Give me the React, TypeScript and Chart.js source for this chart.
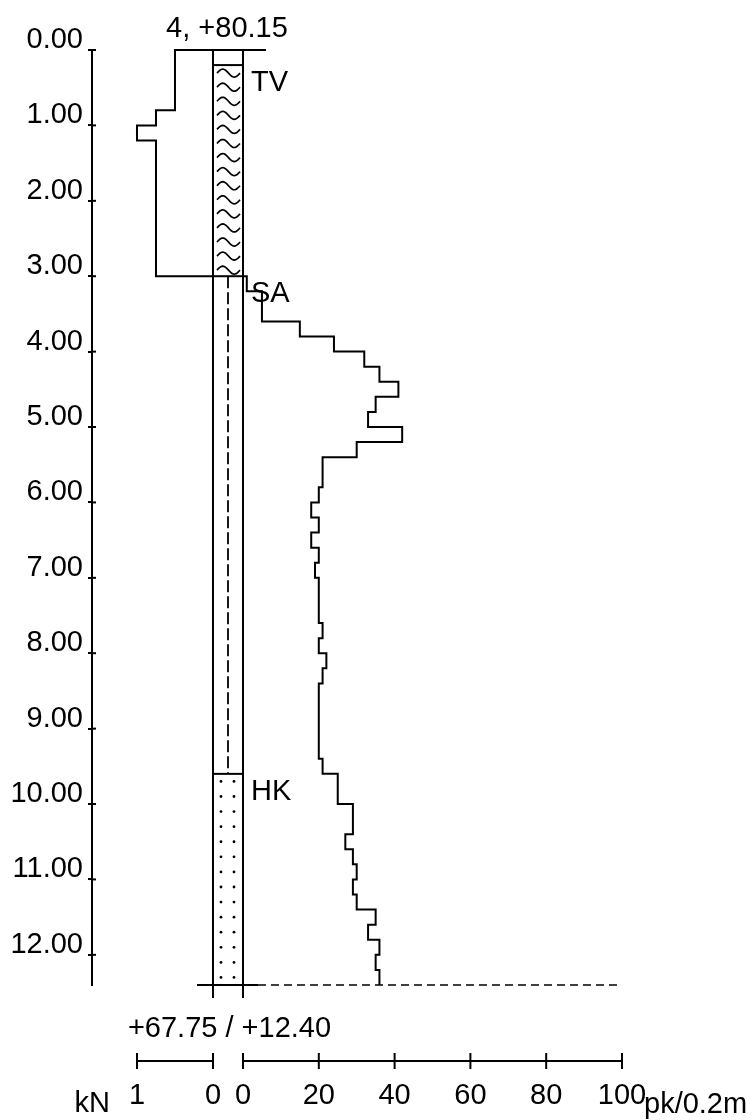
import React, { useEffect, useRef } from "react";
import { Chart, registerables } from "chart.js";

Chart.register(...registerables);

const FONT = "'Liberation Sans', Arial, Helvetica, sans-serif";
const FONT_SIZE = 29;

// Sounding point header / footer
const POINT_NO = "4";
const GROUND_ELEVATION = 80.15;
const END_DEPTH = 12.4;

// Depth axis ticks (m)
const DEPTH_TICKS = [0, 1, 2, 3, 4, 5, 6, 7, 8, 9, 10, 11, 12];

// Weight sounding part (kN): step tops and loads
const KN_DEPTHS = [0.0, 0.8, 1.0, 1.2];
const KN_VALUES = [0.5, 0.75, 1.0, 0.75];
const KN_END_DEPTH = 3.0;

// Half-turns per 0.2 m (pk/0.2m): step tops and values
const PK_DEPTHS = [
  3.0, 3.2, 3.4, 3.6, 3.8, 4.0, 4.2, 4.4, 4.6, 4.8,
  5.0, 5.2, 5.4, 5.6, 5.8, 6.0, 6.2, 6.4, 6.6, 6.8,
  7.0, 7.2, 7.4, 7.6, 7.8, 8.0, 8.2, 8.4, 8.6, 8.8,
  9.0, 9.2, 9.4, 9.6, 9.8, 10.0, 10.2, 10.4, 10.6, 10.8,
  11.0, 11.2, 11.4, 11.6, 11.8, 12.0, 12.2,
];
const PK_VALUES = [
  1, 5, 5, 15, 24, 32, 36, 41, 35, 33,
  42, 30, 21, 21, 20, 18, 20, 18, 20, 19,
  20, 20, 20, 21, 20, 22, 21, 20, 20, 20,
  20, 20, 21, 25, 25, 29, 29, 27, 29, 30,
  29, 30, 35, 33, 36, 35, 36,
];

// Soil layers
const LAYER_NAMES = ["TV", "SA", "HK"];
const LAYER_TOPS = [0.2, 3.0, 9.6];

// Bottom scale bars
const KN_AXIS_TICKS = [1, 0];
const PK_AXIS_TICKS = [0, 20, 40, 60, 80, 100];
const KN_UNIT = "kN";
const PK_UNIT = "pk/0.2m";

const profilePlugin = {
  id: "profile",
  afterDraw(chart: any) {
    const ctx: CanvasRenderingContext2D = chart.ctx;
    const xs = chart.scales.x;
    const xk = chart.scales.xkn;
    const ys = chart.scales.y;
    const area = chart.chartArea;
    const colL = xk.getPixelForValue(0);
    const colR = xs.getPixelForValue(0);
    const colC = (colL + colR) / 2;
    const yTop = ys.getPixelForValue(0);
    const yEnd = ys.getPixelForValue(END_DEPTH);

    const line = (x1: number, y1: number, x2: number, y2: number) => {
      ctx.beginPath();
      ctx.moveTo(x1, y1);
      ctx.lineTo(x2, y2);
      ctx.stroke();
    };

    ctx.save();
    ctx.strokeStyle = "#000";
    ctx.fillStyle = "#000";
    ctx.lineWidth = 2;
    ctx.lineCap = "butt";

    // right half of depth tick marks
    DEPTH_TICKS.forEach((d) => {
      const py = ys.getPixelForValue(d);
      line(area.left, py, area.left + 4, py);
    });

    // column sides
    line(colL, yTop, colL, yEnd + 13);
    line(colR, yTop, colR, yEnd + 13);
    // ground line
    line(colL, yTop, colR + 23, yTop);

    // layer boundaries
    LAYER_TOPS.forEach((t) => {
      const py = ys.getPixelForValue(t);
      line(colL, py, colR, py);
    });

    // layer symbols
    LAYER_NAMES.forEach((name, i) => {
      const top = LAYER_TOPS[i];
      const bot = i + 1 < LAYER_TOPS.length ? LAYER_TOPS[i + 1] : END_DEPTH;
      const pTop = ys.getPixelForValue(top);
      const pBot = ys.getPixelForValue(bot);
      if (name === "TV") {
        const n = 15;
        const step = (pBot - pTop) / n;
        ctx.lineWidth = 1.7;
        const x0 = colL + 4;
        const w = colR - colL - 7;
        for (let k = 0; k < n; k++) {
          const yc = pTop + (k + 0.5) * step + 1;
          ctx.beginPath();
          for (let s = 0; s <= 24; s++) {
            const t = s / 24;
            const px = x0 + t * w;
            const py = yc - 4 * Math.sin(2 * Math.PI * t);
            if (s === 0) ctx.moveTo(px, py);
            else ctx.lineTo(px, py);
          }
          ctx.stroke();
        }
      } else if (name === "SA") {
        ctx.lineWidth = 1.8;
        ctx.setLineDash([12, 4]);
        line(colC, pTop, colC, pBot);
        ctx.setLineDash([]);
      } else if (name === "HK") {
        for (let d = top + 0.1; d < bot; d += 0.2) {
          const py = ys.getPixelForValue(d);
          [colL + 8, colR - 9].forEach((px) => {
            ctx.beginPath();
            ctx.arc(px, py, 1.4, 0, Math.PI * 2);
            ctx.fill();
          });
        }
      }
    });
    ctx.lineWidth = 2;

    // bottom line at end depth
    line(colL - 16, yEnd, colR + 15, yEnd);
    ctx.lineWidth = 1.5;
    ctx.setLineDash([8, 5]);
    line(colR + 15, yEnd, xs.getPixelForValue(100), yEnd);
    ctx.setLineDash([]);
    ctx.lineWidth = 2;

    // texts
    ctx.font = `${FONT_SIZE}px ${FONT}`;
    ctx.textBaseline = "alphabetic";
    ctx.textAlign = "center";
    ctx.fillText(`${POINT_NO}, +${GROUND_ELEVATION.toFixed(2)}`, colC - 1, yTop - 13.5);
    ctx.fillText(
      `+${(GROUND_ELEVATION - END_DEPTH).toFixed(2)} / +${END_DEPTH.toFixed(2)}`,
      colC + 1.5,
      yEnd + 52
    );

    ctx.textAlign = "left";
    LAYER_NAMES.forEach((name, i) => {
      ctx.fillText(name, colR + 8, ys.getPixelForValue(LAYER_TOPS[i]) + 26);
    });

    // bottom scale bars
    const barY = yEnd + 76;
    const drawBar = (scale: any, ticks: number[]) => {
      const a = scale.getPixelForValue(ticks[0]);
      const b = scale.getPixelForValue(ticks[ticks.length - 1]);
      line(a, barY, b, barY);
      ctx.textAlign = "center";
      ticks.forEach((v) => {
        const px = scale.getPixelForValue(v);
        line(px, barY - 8, px, barY + 8);
        ctx.fillText(String(v), px, barY + 43);
      });
    };
    drawBar(xk, KN_AXIS_TICKS);
    drawBar(xs, PK_AXIS_TICKS);
    ctx.textAlign = "right";
    ctx.fillText(KN_UNIT, xk.getPixelForValue(KN_AXIS_TICKS[0]) - 27, barY + 51);
    ctx.textAlign = "left";
    ctx.fillText(PK_UNIT, xs.getPixelForValue(PK_AXIS_TICKS[PK_AXIS_TICKS.length - 1]) + 22, barY + 52);

    ctx.restore();
  },
};

export default function App() {
  const canvasRef = useRef<HTMLCanvasElement | null>(null);

  useEffect(() => {
    const canvas = canvasRef.current;
    if (!canvas) return;

    const knPoints = [
      { x: 0, y: KN_DEPTHS[0] },
      ...KN_DEPTHS.map((d, i) => ({ x: KN_VALUES[i], y: d })),
      { x: KN_VALUES[KN_VALUES.length - 1], y: KN_END_DEPTH },
      { x: 0, y: KN_END_DEPTH },
    ];
    const pkPoints = [
      { x: 0, y: PK_DEPTHS[0] },
      ...PK_DEPTHS.map((d, i) => ({ x: PK_VALUES[i], y: d })),
      { x: PK_VALUES[PK_VALUES.length - 1], y: END_DEPTH },
    ];

    const chart = new Chart(canvas, {
      type: "line",
      data: {
        datasets: [
          {
            label: "kN",
            data: knPoints,
            xAxisID: "xkn",
            yAxisID: "y",
            borderColor: "#000",
            borderWidth: 2,
            pointRadius: 0,
            stepped: "after",
            fill: false,
            clip: false,
          } as any,
          {
            label: "pk/0.2m",
            data: pkPoints,
            xAxisID: "x",
            yAxisID: "y",
            borderColor: "#000",
            borderWidth: 2,
            pointRadius: 0,
            stepped: "after",
            fill: false,
            clip: false,
          } as any,
        ],
      },
      options: {
        responsive: false,
        animation: false,
        devicePixelRatio: 1,
        layout: { padding: { left: 0, right: 131, top: 50, bottom: 135 } },
        plugins: { legend: { display: false }, tooltip: { enabled: false } },
        scales: {
          x: { type: "linear", display: false, bounds: "data", min: -39.84, max: 100 },
          xkn: { type: "linear", display: false, bounds: "data", reverse: true, min: -5.382, max: 1.592 },
          y: {
            type: "linear",
            position: "left",
            reverse: true,
            bounds: "data",
            min: 0,
            max: END_DEPTH,
            afterFit: (s: any) => {
              s.width = 92;
            },
            afterBuildTicks: (s: any) => {
              s.ticks = DEPTH_TICKS.map((v) => ({ value: v }));
            },
            ticks: {
              callback: (v: any) => Number(v).toFixed(2),
              font: { family: FONT, size: FONT_SIZE },
              color: "#000",
              padding: 5,
              labelOffset: -10,
            },
            grid: {
              drawOnChartArea: false,
              drawTicks: true,
              tickLength: 4,
              color: "#000",
              lineWidth: 2,
            },
            border: { display: true, color: "#000", width: 2 },
          },
        },
      } as any,
      plugins: [profilePlugin],
    });

    return () => chart.destroy();
  }, []);

  return (
    <div style={{ position: "fixed", left: 0, top: 0, width: 753, height: 1120, background: "#fff" }}>
      <canvas ref={canvasRef} width={753} height={1120} style={{ display: "block" }} />
    </div>
  );
}
